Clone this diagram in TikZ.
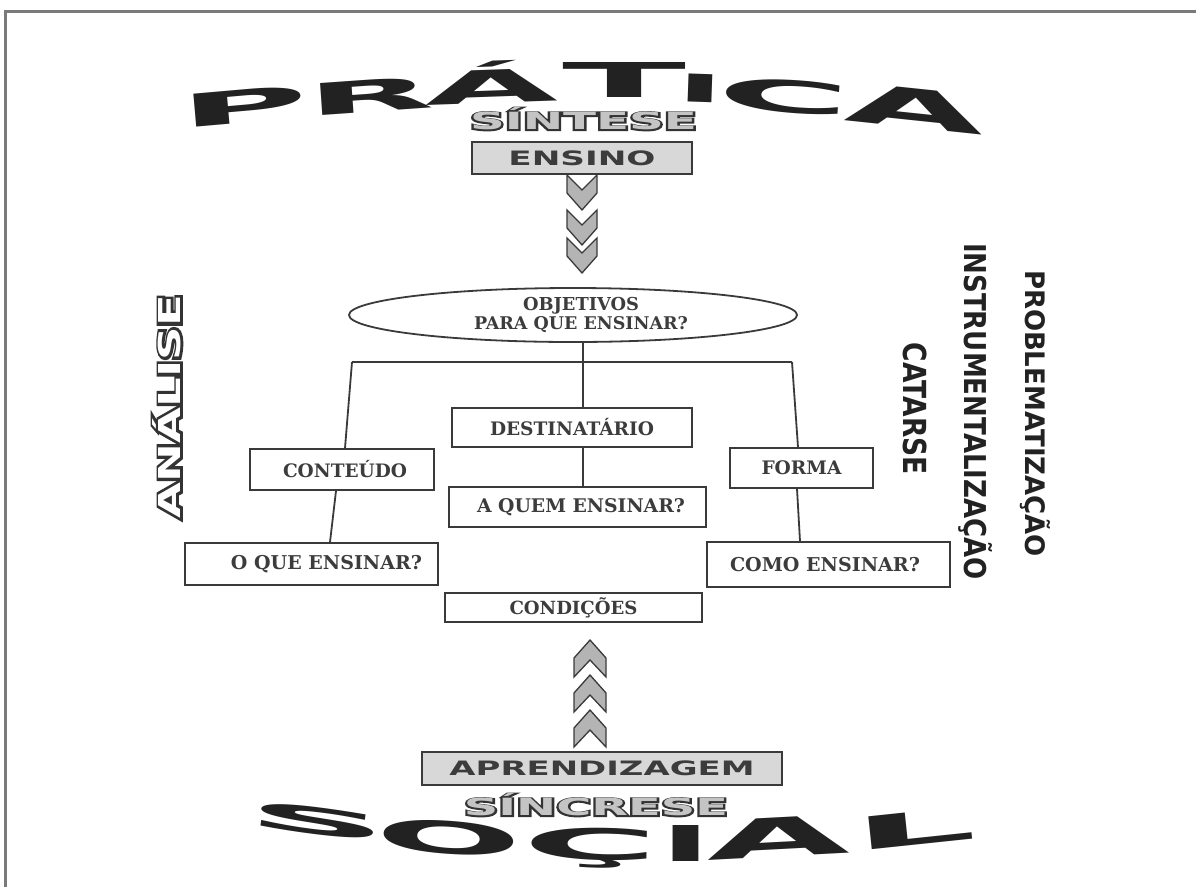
\documentclass[tikz,border=0pt]{standalone}
\usepackage{fontspec}
\usepackage{graphicx}
\usetikzlibrary{shapes.geometric}
\setmainfont{DejaVu Serif}
\newfontfamily\sansf{DejaVu Sans}
\definecolor{boxline}{HTML}{3A3A3A}
\definecolor{txtgray}{HTML}{3C3C3C}
\definecolor{inkblack}{HTML}{222222}
\definecolor{chevfill}{HTML}{B4B4B4}
\definecolor{boxfill}{HTML}{D8D8D8}
\definecolor{framegray}{HTML}{7A7A7A}
\definecolor{ingray}{HTML}{C4C4C4}
\definecolor{outl}{HTML}{333333}
\newcommand\bl[3]{\resizebox*{#1pt}{#2pt}{\sansf\bfseries #3}}
% big letter: box width #1, height #2, letter #3, kept ink width #4
\newcommand\bigletter[4]{\makebox[#4pt]{\resizebox*{#1pt}{#2pt}{\sansf\bfseries #3}}}
\newcommand\fw[2]{\resizebox{#1pt}{!}{#2}}
% outlined text: dark silhouette widened by a stroke of width #3, then fill colour #4 on top
\newcommand\outlined[5]{\resizebox{#1pt}{#2pt}{\fontsize{20}{20}\selectfont\sansf\bfseries\rlap{\color{outl}\special{pdf:literal direct 2 Tr #3 w}#5\special{pdf:literal direct 0 Tr}}\color{#4}#5}}
\begin{document}
\begin{tikzpicture}[x=1pt,y=-1pt,
  box/.style={draw=boxline, line width=1.8pt, fill=white, inner sep=0pt, text=txtgray, font=\bfseries\fontsize{18}{18}\selectfont},
  graybox/.style={box, fill=boxfill},
  big/.style={inner sep=0pt, text=inkblack},
  chev/.style={draw=boxline, line width=1.3pt, fill=chevfill, line join=miter},
  conn/.style={draw=boxline, line width=1.8pt}]
\useasboundingbox (0,0) rectangle (1196,887);
% frame
\draw[framegray, line width=2.5pt] (5.5,887) -- (5.5,11.5) -- (1196,11.5);

% PRATICA
\node[big, rotate=5]  (p1) at (244,106) {\bigletter{130}{33}{P}{100}};
\node[big, rotate=4]  (p2) at (370,96)  {\bigletter{128}{32}{R}{105}};
\node[big, rotate=2]  (p3) at (491,82)  {\bigletter{133}{42}{Á}{120}};
\node[big, rotate=0]  (p4) at (625,80)  {\bigletter{124}{35}{T}{110}};
\node[big, rotate=-2] (p5) at (700,88)  {\bigletter{47}{28}{I}{20}};
\node[big, rotate=-4] (p6) at (784,96)  {\bigletter{133}{33}{C}{106}};
\node[big, rotate=-6] (p7) at (915,108) {\bigletter{140}{39}{A}{126}};

% SOCIAL
\node[big, rotate=-7] (s1) at (318,821) {\bigletter{142}{27}{S}{108}};
\node[big, rotate=-4] (s2) at (449,838) {\bigletter{147}{33}{O}{120}};
\node[big, rotate=-1] (s3) at (591,848) {\bigletter{136}{40}{Ç}{108}};
\node[big, rotate=0]  (s4) at (686,843) {\bigletter{51}{36}{I}{22}};
\node[big, rotate=3]  (s5) at (778,837) {\bigletter{143}{39}{A}{128}};
\node[big, rotate=6]  (s6) at (914,829) {\bigletter{124}{33}{L}{94}};

% outlined words
\node[big] (sintese) at (583.5,119) {\outlined{227}{22}{2.0}{ingray}{SÍNTESE}};
\node[big] (sincrese) at (596,805) {\outlined{264}{22}{2.0}{ingray}{SÍNCRESE}};
\node[big, rotate=90] (analise) at (167,406.5) {\outlined{223}{28}{2.8}{white}{ANÁLISE}};

% vertical words on the right
\node[big, rotate=-90] (catarse) at (915,409) {\bl{132}{24}{CATARSE}};
\node[big, rotate=-90] (instr) at (976,411.5) {\resizebox{337pt}{28pt}{\sansf\bfseries INSTRUMENTALIZAÇÃO}};
\node[big, rotate=-90] (probl) at (1035,413.5) {\resizebox{287pt}{25pt}{\sansf\bfseries PROBLEMATIZAÇÃO}};

% main gray boxes
\node[graybox, minimum width=220pt, minimum height=32pt] (ensino) at (582,158) {\bl{147}{15}{ENSINO}};
\node[graybox, minimum width=360pt, minimum height=33pt] (aprend) at (602,768.5) {\bl{305}{15}{APRENDIZAGEM}};

% chevrons down
\foreach \t in {175,210,238}
  \draw[chev] (567,\t) -- (582,{\t+15}) -- (597,\t) -- (597,{\t+18}) -- (582,{\t+35}) -- (567,{\t+18}) -- cycle;
% chevrons up
\foreach \t in {640,675,710}
  \draw[chev] (590,\t) -- (606,{\t+18}) -- (606,{\t+37}) -- (590,{\t+20}) -- (574,{\t+37}) -- (574,{\t+18}) -- cycle;

% ellipse
\node[draw=boxline, line width=1.8pt, ellipse, minimum width=448pt, minimum height=54pt, inner sep=0pt,
      align=center, text=txtgray, font=\bfseries\fontsize{17}{19}\selectfont] (obj) at (573,315)
  {\hspace*{16pt}\fw{116}{OBJETIVOS}\\\hspace*{16pt}\fw{214}{PARA QUE ENSINAR?}};

% boxes
\node[box, minimum width=240pt, minimum height=39pt] (destin) at (572,427.5) {\fw{164}{DESTINATÁRIO}};
\node[box, minimum width=257pt, minimum height=40pt] (aquem) at (577.5,507) {\hspace*{7pt}\fw{208}{A QUEM ENSINAR?}};
\node[box, minimum width=184pt, minimum height=41pt] (conteudo) at (342,469.5) {\hspace*{6pt}\fw{124}{CONTEÚDO}};
\node[box, minimum width=253pt, minimum height=42pt] (oque) at (311.5,564) {\hspace*{30pt}\fw{191}{O QUE ENSINAR?}};
\node[box, minimum width=143pt, minimum height=40pt] (forma) at (801.5,468) {\fw{80}{FORMA}};
\node[box, minimum width=243pt, minimum height=45pt] (como) at (828.5,564.5) {\fw{190}{COMO ENSINAR?}\hspace*{7pt}};
\node[box, minimum width=257pt, minimum height=29pt] (condicoes) at (573.5,607.5) {\fw{128}{CONDIÇÕES}};

% connectors
\coordinate (hl) at (352,362);
\coordinate (hr) at (792,362);
\coordinate (hc) at (583,362);
\draw[conn] (obj.south -| hc) -- (hc);
\draw[conn] (hl) -- (hr);
\draw[conn] (hc) -- (destin.north -| hc);
\draw[conn] (destin.south -| hc) -- (aquem.north -| hc);
\draw[conn] (hl) -- ([xshift=3pt]conteudo.north);
\draw[conn] ([xshift=-6pt]conteudo.south) -- ([xshift=18.5pt]oque.north);
\draw[conn] (hr) -- ([xshift=-3.5pt]forma.north);
\draw[conn] ([xshift=-4.5pt]forma.south) -- ([xshift=-28.5pt]como.north);
\end{tikzpicture}
\end{document}
